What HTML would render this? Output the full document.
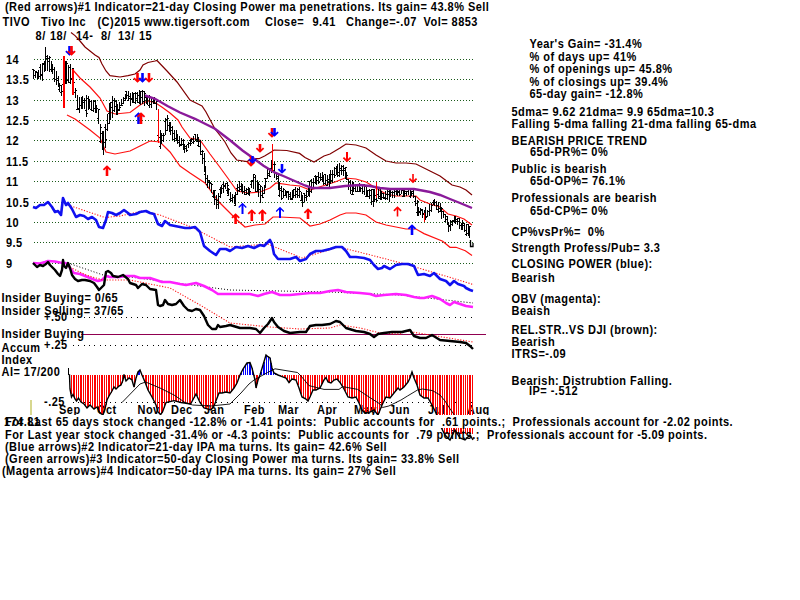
<!DOCTYPE html>
<html><head><meta charset="utf-8"><title>TIVO</title>
<style>html,body{margin:0;padding:0;background:#fff;width:800px;height:600px;overflow:hidden}svg{display:block}</style>
</head><body>
<svg width="800" height="600" viewBox="0 0 800 600">
<rect width="800" height="600" fill="#fff"/>
<g font-family="Liberation Sans, sans-serif" font-weight="bold" font-size="12" letter-spacing="0.513" transform="scale(0.917,1)" fill="#000" style="white-space:pre">
<text x="5.45" y="11" >(Red arrows)#1 Indicator=21-day Closing Power ma penetrations. Its gain= 43.8% Sell</text>
<text x="2.73" y="26.5" >TIVO</text>
<text x="44.71" y="26.5" >Tivo Inc</text>
<text x="106.32" y="26.5" >(C)2015 www.tigersoft.com</text>
<text x="288.99" y="26.5" >Close=</text>
<text x="340.79" y="26.5" >9.41</text>
<text x="377.32" y="26.5" >Change=-.07</text>
<text x="461.83" y="26.5" >Vol= 8853</text>
<text x="38.82" y="40.5" >8/</text>
<text x="54.53" y="40.5" >18/</text>
<text x="82.88" y="40.5" >14-</text>
<text x="110.14" y="40.5" >8/</text>
<text x="128.68" y="40.5" >13/</text>
<text x="151.58" y="40.5" >15</text>
<text x="6.54" y="64.2" >14</text>
<text x="6.54" y="84.2" >13.5</text>
<text x="6.54" y="105.2" >13</text>
<text x="6.54" y="125.2" >12.5</text>
<text x="6.54" y="145.2" >12</text>
<text x="6.54" y="166.2" >11.5</text>
<text x="6.54" y="186.2" >11</text>
<text x="6.54" y="207.2" >10.5</text>
<text x="6.54" y="227.2" >10</text>
<text x="6.54" y="247.2" >9.5</text>
<text x="6.54" y="268.2" >9</text>
</g>
<g stroke="#1a5a1a" stroke-width="1" stroke-dasharray="1 2" shape-rendering="crispEdges">
<line x1="34" y1="59.5" x2="473" y2="59.5"/>
<line x1="34" y1="79.5" x2="473" y2="79.5"/>
<line x1="34" y1="100.5" x2="473" y2="100.5"/>
<line x1="34" y1="120.5" x2="473" y2="120.5"/>
<line x1="34" y1="140.5" x2="473" y2="140.5"/>
<line x1="34" y1="161.5" x2="473" y2="161.5"/>
<line x1="34" y1="181.5" x2="473" y2="181.5"/>
<line x1="34" y1="202.5" x2="473" y2="202.5"/>
<line x1="34" y1="222.5" x2="473" y2="222.5"/>
<line x1="34" y1="242.5" x2="473" y2="242.5"/>
<line x1="34" y1="263.5" x2="473" y2="263.5"/>
</g>
<polyline fill="none" stroke="#800000" stroke-width="1.2" points="71.0,32.5 75.0,35.6 80.0,41.0 85.0,47.0 90.0,51.0 95.0,55.0 99.0,57.5 102.0,64.0 106.0,71.0 110.0,75.6 120.0,77.0 128.0,75.6 135.0,74.0 140.0,70.0 143.0,65.0 148.0,62.5 155.0,61.0 157.0,60.5 167.0,71.0 177.0,82.0 190.0,100.0 198.0,104.0 202.0,106.0 206.0,112.0 215.0,129.0 222.0,138.0 225.0,142.0 231.0,153.0 236.7,160.0 247.0,161.6 252.0,158.7 259.0,158.7 264.6,156.0 271.6,151.7 274.0,150.0 286.8,150.5 299.6,153.4 305.0,157.5 314.0,162.0 324.0,156.0 330.0,154.0 340.0,148.0 346.0,144.0 356.0,145.0 366.0,148.0 376.0,155.0 386.0,161.0 396.0,163.0 406.0,163.0 416.0,164.0 430.0,171.0 440.0,176.0 448.0,182.0 452.0,185.0 460.0,187.0 466.0,190.0 472.0,195.0"/>
<polyline fill="none" stroke="#ff1010" stroke-width="1.2" points="72.0,69.0 80.0,78.0 90.0,87.0 100.0,98.0 107.0,111.0 115.0,114.0 130.0,112.5 140.0,105.0 147.5,101.0 155.0,102.5 162.5,107.5 170.0,113.0 178.0,120.0 182.0,127.0 190.0,138.0 200.0,140.0 210.0,154.0 219.0,166.0 228.5,179.0 237.0,191.0 248.0,193.0 260.0,192.0 270.0,188.0 276.0,183.0 290.0,185.0 300.0,186.0 310.0,190.0 322.5,186.0 335.0,182.0 345.0,178.0 356.0,179.0 366.0,182.0 376.0,188.0 386.0,194.0 396.0,196.0 406.0,196.0 416.0,196.0 420.0,200.0 430.0,204.0 440.0,207.0 448.0,214.0 456.0,216.0 464.0,219.0 472.0,225.0"/>
<polyline fill="none" stroke="#ff1010" stroke-width="1.2" points="67.0,115.0 75.0,119.0 90.0,130.0 100.0,138.0 106.0,152.0 115.0,154.0 130.0,151.0 140.0,146.0 150.0,141.0 160.0,142.0 170.0,152.0 180.0,166.0 190.0,173.0 205.0,183.0 219.0,202.0 237.0,220.0 245.0,227.0 255.0,225.0 265.0,224.0 273.0,217.0 280.0,217.0 300.0,218.0 310.0,226.0 320.0,224.0 330.0,220.0 340.0,215.0 346.0,213.0 356.0,213.0 366.0,215.0 376.0,222.0 386.0,225.0 396.0,227.0 406.0,229.0 416.0,229.0 424.0,233.6 442.7,241.3 450.0,247.3 456.0,247.3 465.3,250.7 472.0,255.5"/>
<g fill="#000" shape-rendering="crispEdges">
<rect x="33" y="69" width="1" height="10"/>
<rect x="32" y="69" width="1" height="1"/>
<rect x="34" y="70" width="1" height="1"/>
<rect x="35" y="71" width="1" height="7"/>
<rect x="34" y="75" width="1" height="1"/>
<rect x="36" y="71" width="1" height="1"/>
<rect x="37" y="72" width="1" height="6"/>
<rect x="36" y="72" width="1" height="1"/>
<rect x="38" y="75" width="1" height="1"/>
<rect x="38" y="70" width="1" height="9"/>
<rect x="37" y="78" width="1" height="1"/>
<rect x="39" y="76" width="1" height="1"/>
<rect x="40" y="64" width="1" height="15"/>
<rect x="39" y="67" width="1" height="1"/>
<rect x="41" y="74" width="1" height="1"/>
<rect x="42" y="63" width="1" height="18"/>
<rect x="41" y="75" width="1" height="1"/>
<rect x="43" y="64" width="1" height="1"/>
<rect x="44" y="61" width="1" height="11"/>
<rect x="43" y="63" width="1" height="1"/>
<rect x="45" y="65" width="1" height="1"/>
<rect x="45" y="47" width="1" height="24"/>
<rect x="44" y="65" width="1" height="1"/>
<rect x="46" y="56" width="1" height="1"/>
<rect x="47" y="55" width="1" height="16"/>
<rect x="46" y="58" width="1" height="1"/>
<rect x="48" y="61" width="1" height="1"/>
<rect x="49" y="56" width="1" height="16"/>
<rect x="48" y="58" width="1" height="1"/>
<rect x="50" y="57" width="1" height="1"/>
<rect x="51" y="61" width="1" height="11"/>
<rect x="50" y="69" width="1" height="1"/>
<rect x="52" y="67" width="1" height="1"/>
<rect x="52" y="64" width="1" height="10"/>
<rect x="51" y="71" width="1" height="1"/>
<rect x="53" y="69" width="1" height="1"/>
<rect x="54" y="67" width="1" height="15"/>
<rect x="53" y="78" width="1" height="1"/>
<rect x="55" y="79" width="1" height="1"/>
<rect x="56" y="71" width="1" height="14"/>
<rect x="55" y="79" width="1" height="1"/>
<rect x="57" y="78" width="1" height="1"/>
<rect x="58" y="76" width="1" height="11"/>
<rect x="57" y="80" width="1" height="1"/>
<rect x="59" y="85" width="1" height="1"/>
<rect x="59" y="83" width="1" height="9"/>
<rect x="58" y="89" width="1" height="1"/>
<rect x="60" y="85" width="1" height="1"/>
<rect x="61" y="85" width="1" height="11"/>
<rect x="60" y="92" width="1" height="1"/>
<rect x="62" y="91" width="1" height="1"/>
<rect x="63" y="67" width="1" height="22"/>
<rect x="62" y="84" width="1" height="1"/>
<rect x="64" y="85" width="1" height="1"/>
<rect x="65" y="61" width="1" height="23"/>
<rect x="64" y="71" width="1" height="1"/>
<rect x="66" y="83" width="1" height="1"/>
<rect x="66" y="61" width="1" height="22"/>
<rect x="65" y="75" width="1" height="1"/>
<rect x="67" y="63" width="1" height="1"/>
<rect x="68" y="65" width="1" height="18"/>
<rect x="67" y="80" width="1" height="1"/>
<rect x="69" y="67" width="1" height="1"/>
<rect x="70" y="64" width="1" height="20"/>
<rect x="69" y="82" width="1" height="1"/>
<rect x="71" y="78" width="1" height="1"/>
<rect x="72" y="68" width="1" height="16"/>
<rect x="71" y="79" width="1" height="1"/>
<rect x="73" y="68" width="1" height="1"/>
<rect x="73" y="82" width="1" height="7"/>
<rect x="72" y="86" width="1" height="1"/>
<rect x="74" y="82" width="1" height="1"/>
<rect x="75" y="88" width="1" height="10"/>
<rect x="74" y="92" width="1" height="1"/>
<rect x="76" y="90" width="1" height="1"/>
<rect x="77" y="95" width="1" height="15"/>
<rect x="76" y="109" width="1" height="1"/>
<rect x="78" y="108" width="1" height="1"/>
<rect x="79" y="97" width="1" height="16"/>
<rect x="78" y="109" width="1" height="1"/>
<rect x="80" y="105" width="1" height="1"/>
<rect x="81" y="97" width="1" height="12"/>
<rect x="80" y="105" width="1" height="1"/>
<rect x="82" y="101" width="1" height="1"/>
<rect x="82" y="96" width="1" height="13"/>
<rect x="81" y="106" width="1" height="1"/>
<rect x="83" y="102" width="1" height="1"/>
<rect x="84" y="98" width="1" height="11"/>
<rect x="83" y="100" width="1" height="1"/>
<rect x="85" y="100" width="1" height="1"/>
<rect x="86" y="95" width="1" height="22"/>
<rect x="85" y="110" width="1" height="1"/>
<rect x="87" y="113" width="1" height="1"/>
<rect x="88" y="96" width="1" height="14"/>
<rect x="87" y="98" width="1" height="1"/>
<rect x="89" y="102" width="1" height="1"/>
<rect x="89" y="99" width="1" height="10"/>
<rect x="88" y="104" width="1" height="1"/>
<rect x="90" y="101" width="1" height="1"/>
<rect x="91" y="100" width="1" height="11"/>
<rect x="90" y="109" width="1" height="1"/>
<rect x="92" y="110" width="1" height="1"/>
<rect x="93" y="100" width="1" height="12"/>
<rect x="92" y="110" width="1" height="1"/>
<rect x="94" y="108" width="1" height="1"/>
<rect x="95" y="100" width="1" height="13"/>
<rect x="94" y="101" width="1" height="1"/>
<rect x="96" y="107" width="1" height="1"/>
<rect x="96" y="105" width="1" height="8"/>
<rect x="95" y="106" width="1" height="1"/>
<rect x="97" y="108" width="1" height="1"/>
<rect x="98" y="109" width="1" height="15"/>
<rect x="97" y="118" width="1" height="1"/>
<rect x="99" y="109" width="1" height="1"/>
<rect x="100" y="124" width="1" height="19"/>
<rect x="99" y="141" width="1" height="1"/>
<rect x="101" y="127" width="1" height="1"/>
<rect x="102" y="131" width="1" height="19"/>
<rect x="101" y="133" width="1" height="1"/>
<rect x="103" y="137" width="1" height="1"/>
<rect x="103" y="131" width="1" height="24"/>
<rect x="102" y="139" width="1" height="1"/>
<rect x="104" y="142" width="1" height="1"/>
<rect x="105" y="124" width="1" height="24"/>
<rect x="104" y="127" width="1" height="1"/>
<rect x="106" y="139" width="1" height="1"/>
<rect x="107" y="114" width="1" height="17"/>
<rect x="106" y="129" width="1" height="1"/>
<rect x="108" y="123" width="1" height="1"/>
<rect x="109" y="103" width="1" height="21"/>
<rect x="108" y="113" width="1" height="1"/>
<rect x="110" y="111" width="1" height="1"/>
<rect x="110" y="102" width="1" height="18"/>
<rect x="109" y="118" width="1" height="1"/>
<rect x="111" y="102" width="1" height="1"/>
<rect x="112" y="96" width="1" height="22"/>
<rect x="111" y="107" width="1" height="1"/>
<rect x="113" y="100" width="1" height="1"/>
<rect x="114" y="98" width="1" height="14"/>
<rect x="113" y="110" width="1" height="1"/>
<rect x="115" y="106" width="1" height="1"/>
<rect x="116" y="100" width="1" height="15"/>
<rect x="115" y="101" width="1" height="1"/>
<rect x="117" y="111" width="1" height="1"/>
<rect x="117" y="104" width="1" height="11"/>
<rect x="116" y="106" width="1" height="1"/>
<rect x="118" y="109" width="1" height="1"/>
<rect x="119" y="102" width="1" height="9"/>
<rect x="118" y="110" width="1" height="1"/>
<rect x="120" y="107" width="1" height="1"/>
<rect x="121" y="99" width="1" height="7"/>
<rect x="120" y="105" width="1" height="1"/>
<rect x="122" y="105" width="1" height="1"/>
<rect x="123" y="97" width="1" height="7"/>
<rect x="122" y="103" width="1" height="1"/>
<rect x="124" y="100" width="1" height="1"/>
<rect x="125" y="94" width="1" height="7"/>
<rect x="124" y="98" width="1" height="1"/>
<rect x="126" y="97" width="1" height="1"/>
<rect x="126" y="91" width="1" height="8"/>
<rect x="125" y="91" width="1" height="1"/>
<rect x="127" y="95" width="1" height="1"/>
<rect x="128" y="91" width="1" height="10"/>
<rect x="127" y="100" width="1" height="1"/>
<rect x="129" y="96" width="1" height="1"/>
<rect x="130" y="93" width="1" height="13"/>
<rect x="129" y="98" width="1" height="1"/>
<rect x="131" y="98" width="1" height="1"/>
<rect x="132" y="92" width="1" height="11"/>
<rect x="131" y="99" width="1" height="1"/>
<rect x="133" y="95" width="1" height="1"/>
<rect x="133" y="93" width="1" height="10"/>
<rect x="132" y="102" width="1" height="1"/>
<rect x="134" y="93" width="1" height="1"/>
<rect x="135" y="92" width="1" height="12"/>
<rect x="134" y="102" width="1" height="1"/>
<rect x="136" y="93" width="1" height="1"/>
<rect x="137" y="92" width="1" height="11"/>
<rect x="136" y="98" width="1" height="1"/>
<rect x="138" y="95" width="1" height="1"/>
<rect x="139" y="90" width="1" height="14"/>
<rect x="138" y="102" width="1" height="1"/>
<rect x="140" y="100" width="1" height="1"/>
<rect x="140" y="91" width="1" height="14"/>
<rect x="139" y="102" width="1" height="1"/>
<rect x="141" y="97" width="1" height="1"/>
<rect x="142" y="90" width="1" height="14"/>
<rect x="141" y="91" width="1" height="1"/>
<rect x="143" y="101" width="1" height="1"/>
<rect x="144" y="91" width="1" height="15"/>
<rect x="143" y="91" width="1" height="1"/>
<rect x="145" y="93" width="1" height="1"/>
<rect x="146" y="95" width="1" height="9"/>
<rect x="145" y="97" width="1" height="1"/>
<rect x="147" y="102" width="1" height="1"/>
<rect x="147" y="97" width="1" height="8"/>
<rect x="146" y="99" width="1" height="1"/>
<rect x="148" y="97" width="1" height="1"/>
<rect x="149" y="95" width="1" height="13"/>
<rect x="148" y="105" width="1" height="1"/>
<rect x="150" y="96" width="1" height="1"/>
<rect x="151" y="98" width="1" height="10"/>
<rect x="150" y="104" width="1" height="1"/>
<rect x="152" y="101" width="1" height="1"/>
<rect x="153" y="99" width="1" height="5"/>
<rect x="152" y="101" width="1" height="1"/>
<rect x="154" y="100" width="1" height="1"/>
<rect x="154" y="97" width="1" height="7"/>
<rect x="153" y="101" width="1" height="1"/>
<rect x="155" y="99" width="1" height="1"/>
<rect x="156" y="101" width="1" height="9"/>
<rect x="155" y="103" width="1" height="1"/>
<rect x="157" y="101" width="1" height="1"/>
<rect x="158" y="121" width="1" height="18"/>
<rect x="157" y="135" width="1" height="1"/>
<rect x="159" y="137" width="1" height="1"/>
<rect x="160" y="130" width="1" height="19"/>
<rect x="159" y="146" width="1" height="1"/>
<rect x="161" y="134" width="1" height="1"/>
<rect x="161" y="133" width="1" height="11"/>
<rect x="160" y="133" width="1" height="1"/>
<rect x="162" y="140" width="1" height="1"/>
<rect x="163" y="133" width="1" height="9"/>
<rect x="162" y="135" width="1" height="1"/>
<rect x="164" y="135" width="1" height="1"/>
<rect x="165" y="118" width="1" height="17"/>
<rect x="164" y="121" width="1" height="1"/>
<rect x="166" y="119" width="1" height="1"/>
<rect x="167" y="115" width="1" height="16"/>
<rect x="166" y="130" width="1" height="1"/>
<rect x="168" y="118" width="1" height="1"/>
<rect x="169" y="122" width="1" height="10"/>
<rect x="168" y="125" width="1" height="1"/>
<rect x="170" y="126" width="1" height="1"/>
<rect x="170" y="122" width="1" height="13"/>
<rect x="169" y="129" width="1" height="1"/>
<rect x="171" y="130" width="1" height="1"/>
<rect x="172" y="126" width="1" height="14"/>
<rect x="171" y="127" width="1" height="1"/>
<rect x="173" y="133" width="1" height="1"/>
<rect x="174" y="130" width="1" height="12"/>
<rect x="173" y="139" width="1" height="1"/>
<rect x="175" y="138" width="1" height="1"/>
<rect x="176" y="130" width="1" height="11"/>
<rect x="175" y="138" width="1" height="1"/>
<rect x="177" y="138" width="1" height="1"/>
<rect x="177" y="134" width="1" height="10"/>
<rect x="176" y="137" width="1" height="1"/>
<rect x="178" y="142" width="1" height="1"/>
<rect x="179" y="136" width="1" height="11"/>
<rect x="178" y="140" width="1" height="1"/>
<rect x="180" y="144" width="1" height="1"/>
<rect x="181" y="138" width="1" height="8"/>
<rect x="180" y="145" width="1" height="1"/>
<rect x="182" y="140" width="1" height="1"/>
<rect x="183" y="139" width="1" height="11"/>
<rect x="182" y="144" width="1" height="1"/>
<rect x="184" y="140" width="1" height="1"/>
<rect x="184" y="144" width="1" height="9"/>
<rect x="183" y="147" width="1" height="1"/>
<rect x="185" y="148" width="1" height="1"/>
<rect x="186" y="145" width="1" height="7"/>
<rect x="185" y="146" width="1" height="1"/>
<rect x="187" y="150" width="1" height="1"/>
<rect x="188" y="142" width="1" height="6"/>
<rect x="187" y="144" width="1" height="1"/>
<rect x="189" y="143" width="1" height="1"/>
<rect x="190" y="140" width="1" height="6"/>
<rect x="189" y="140" width="1" height="1"/>
<rect x="191" y="143" width="1" height="1"/>
<rect x="191" y="138" width="1" height="4"/>
<rect x="190" y="139" width="1" height="1"/>
<rect x="192" y="139" width="1" height="1"/>
<rect x="193" y="136" width="1" height="8"/>
<rect x="192" y="142" width="1" height="1"/>
<rect x="194" y="141" width="1" height="1"/>
<rect x="195" y="134" width="1" height="7"/>
<rect x="194" y="134" width="1" height="1"/>
<rect x="196" y="139" width="1" height="1"/>
<rect x="197" y="134" width="1" height="8"/>
<rect x="196" y="141" width="1" height="1"/>
<rect x="198" y="141" width="1" height="1"/>
<rect x="198" y="137" width="1" height="10"/>
<rect x="197" y="145" width="1" height="1"/>
<rect x="199" y="146" width="1" height="1"/>
<rect x="200" y="140" width="1" height="15"/>
<rect x="199" y="141" width="1" height="1"/>
<rect x="201" y="154" width="1" height="1"/>
<rect x="202" y="150" width="1" height="14"/>
<rect x="201" y="151" width="1" height="1"/>
<rect x="203" y="151" width="1" height="1"/>
<rect x="204" y="153" width="1" height="19"/>
<rect x="203" y="158" width="1" height="1"/>
<rect x="205" y="161" width="1" height="1"/>
<rect x="205" y="166" width="1" height="17"/>
<rect x="204" y="174" width="1" height="1"/>
<rect x="206" y="178" width="1" height="1"/>
<rect x="207" y="175" width="1" height="13"/>
<rect x="206" y="184" width="1" height="1"/>
<rect x="208" y="182" width="1" height="1"/>
<rect x="209" y="180" width="1" height="9"/>
<rect x="208" y="180" width="1" height="1"/>
<rect x="210" y="182" width="1" height="1"/>
<rect x="211" y="183" width="1" height="10"/>
<rect x="210" y="183" width="1" height="1"/>
<rect x="212" y="184" width="1" height="1"/>
<rect x="213" y="190" width="1" height="7"/>
<rect x="212" y="196" width="1" height="1"/>
<rect x="214" y="191" width="1" height="1"/>
<rect x="214" y="190" width="1" height="15"/>
<rect x="213" y="197" width="1" height="1"/>
<rect x="215" y="190" width="1" height="1"/>
<rect x="216" y="195" width="1" height="14"/>
<rect x="215" y="199" width="1" height="1"/>
<rect x="217" y="204" width="1" height="1"/>
<rect x="218" y="193" width="1" height="16"/>
<rect x="217" y="200" width="1" height="1"/>
<rect x="219" y="196" width="1" height="1"/>
<rect x="220" y="187" width="1" height="11"/>
<rect x="219" y="189" width="1" height="1"/>
<rect x="221" y="190" width="1" height="1"/>
<rect x="221" y="185" width="1" height="9"/>
<rect x="220" y="193" width="1" height="1"/>
<rect x="222" y="188" width="1" height="1"/>
<rect x="223" y="182" width="1" height="11"/>
<rect x="222" y="184" width="1" height="1"/>
<rect x="224" y="186" width="1" height="1"/>
<rect x="225" y="183" width="1" height="6"/>
<rect x="224" y="185" width="1" height="1"/>
<rect x="226" y="183" width="1" height="1"/>
<rect x="227" y="182" width="1" height="12"/>
<rect x="226" y="190" width="1" height="1"/>
<rect x="228" y="185" width="1" height="1"/>
<rect x="228" y="188" width="1" height="8"/>
<rect x="227" y="195" width="1" height="1"/>
<rect x="229" y="189" width="1" height="1"/>
<rect x="230" y="192" width="1" height="10"/>
<rect x="229" y="199" width="1" height="1"/>
<rect x="231" y="200" width="1" height="1"/>
<rect x="232" y="194" width="1" height="8"/>
<rect x="231" y="198" width="1" height="1"/>
<rect x="233" y="197" width="1" height="1"/>
<rect x="234" y="195" width="1" height="9"/>
<rect x="233" y="197" width="1" height="1"/>
<rect x="235" y="201" width="1" height="1"/>
<rect x="235" y="192" width="1" height="14"/>
<rect x="234" y="205" width="1" height="1"/>
<rect x="236" y="194" width="1" height="1"/>
<rect x="237" y="184" width="1" height="11"/>
<rect x="236" y="188" width="1" height="1"/>
<rect x="238" y="190" width="1" height="1"/>
<rect x="239" y="181" width="1" height="11"/>
<rect x="238" y="187" width="1" height="1"/>
<rect x="240" y="189" width="1" height="1"/>
<rect x="241" y="183" width="1" height="9"/>
<rect x="240" y="186" width="1" height="1"/>
<rect x="242" y="187" width="1" height="1"/>
<rect x="242" y="184" width="1" height="10"/>
<rect x="241" y="188" width="1" height="1"/>
<rect x="243" y="191" width="1" height="1"/>
<rect x="244" y="186" width="1" height="9"/>
<rect x="243" y="191" width="1" height="1"/>
<rect x="245" y="194" width="1" height="1"/>
<rect x="246" y="188" width="1" height="7"/>
<rect x="245" y="190" width="1" height="1"/>
<rect x="247" y="189" width="1" height="1"/>
<rect x="248" y="187" width="1" height="8"/>
<rect x="247" y="193" width="1" height="1"/>
<rect x="249" y="188" width="1" height="1"/>
<rect x="249" y="188" width="1" height="8"/>
<rect x="248" y="191" width="1" height="1"/>
<rect x="250" y="191" width="1" height="1"/>
<rect x="251" y="180" width="1" height="8"/>
<rect x="250" y="184" width="1" height="1"/>
<rect x="252" y="181" width="1" height="1"/>
<rect x="253" y="174" width="1" height="15"/>
<rect x="252" y="180" width="1" height="1"/>
<rect x="254" y="174" width="1" height="1"/>
<rect x="255" y="175" width="1" height="17"/>
<rect x="254" y="177" width="1" height="1"/>
<rect x="256" y="191" width="1" height="1"/>
<rect x="257" y="180" width="1" height="12"/>
<rect x="256" y="191" width="1" height="1"/>
<rect x="258" y="189" width="1" height="1"/>
<rect x="258" y="182" width="1" height="15"/>
<rect x="257" y="189" width="1" height="1"/>
<rect x="259" y="184" width="1" height="1"/>
<rect x="260" y="185" width="1" height="18"/>
<rect x="259" y="189" width="1" height="1"/>
<rect x="261" y="186" width="1" height="1"/>
<rect x="262" y="187" width="1" height="11"/>
<rect x="261" y="195" width="1" height="1"/>
<rect x="263" y="197" width="1" height="1"/>
<rect x="264" y="185" width="1" height="9"/>
<rect x="263" y="193" width="1" height="1"/>
<rect x="265" y="187" width="1" height="1"/>
<rect x="265" y="178" width="1" height="9"/>
<rect x="264" y="178" width="1" height="1"/>
<rect x="266" y="181" width="1" height="1"/>
<rect x="267" y="168" width="1" height="11"/>
<rect x="266" y="178" width="1" height="1"/>
<rect x="268" y="173" width="1" height="1"/>
<rect x="269" y="168" width="1" height="9"/>
<rect x="268" y="175" width="1" height="1"/>
<rect x="270" y="176" width="1" height="1"/>
<rect x="271" y="160" width="1" height="13"/>
<rect x="270" y="168" width="1" height="1"/>
<rect x="272" y="170" width="1" height="1"/>
<rect x="272" y="158" width="1" height="14"/>
<rect x="271" y="165" width="1" height="1"/>
<rect x="273" y="170" width="1" height="1"/>
<rect x="274" y="162" width="1" height="16"/>
<rect x="273" y="164" width="1" height="1"/>
<rect x="275" y="164" width="1" height="1"/>
<rect x="276" y="172" width="1" height="8"/>
<rect x="275" y="173" width="1" height="1"/>
<rect x="277" y="176" width="1" height="1"/>
<rect x="278" y="175" width="1" height="15"/>
<rect x="277" y="178" width="1" height="1"/>
<rect x="279" y="186" width="1" height="1"/>
<rect x="279" y="182" width="1" height="15"/>
<rect x="278" y="195" width="1" height="1"/>
<rect x="280" y="188" width="1" height="1"/>
<rect x="281" y="186" width="1" height="14"/>
<rect x="280" y="190" width="1" height="1"/>
<rect x="282" y="198" width="1" height="1"/>
<rect x="283" y="188" width="1" height="10"/>
<rect x="282" y="191" width="1" height="1"/>
<rect x="284" y="189" width="1" height="1"/>
<rect x="285" y="190" width="1" height="6"/>
<rect x="284" y="195" width="1" height="1"/>
<rect x="286" y="195" width="1" height="1"/>
<rect x="286" y="191" width="1" height="7"/>
<rect x="285" y="192" width="1" height="1"/>
<rect x="287" y="191" width="1" height="1"/>
<rect x="288" y="191" width="1" height="9"/>
<rect x="287" y="192" width="1" height="1"/>
<rect x="289" y="194" width="1" height="1"/>
<rect x="290" y="192" width="1" height="8"/>
<rect x="289" y="196" width="1" height="1"/>
<rect x="291" y="199" width="1" height="1"/>
<rect x="292" y="190" width="1" height="10"/>
<rect x="291" y="198" width="1" height="1"/>
<rect x="293" y="193" width="1" height="1"/>
<rect x="293" y="189" width="1" height="9"/>
<rect x="292" y="196" width="1" height="1"/>
<rect x="294" y="189" width="1" height="1"/>
<rect x="295" y="187" width="1" height="11"/>
<rect x="294" y="195" width="1" height="1"/>
<rect x="296" y="194" width="1" height="1"/>
<rect x="297" y="188" width="1" height="10"/>
<rect x="296" y="191" width="1" height="1"/>
<rect x="298" y="189" width="1" height="1"/>
<rect x="299" y="187" width="1" height="11"/>
<rect x="298" y="195" width="1" height="1"/>
<rect x="300" y="191" width="1" height="1"/>
<rect x="301" y="192" width="1" height="9"/>
<rect x="300" y="200" width="1" height="1"/>
<rect x="302" y="196" width="1" height="1"/>
<rect x="302" y="195" width="1" height="12"/>
<rect x="301" y="198" width="1" height="1"/>
<rect x="303" y="202" width="1" height="1"/>
<rect x="304" y="193" width="1" height="9"/>
<rect x="303" y="193" width="1" height="1"/>
<rect x="305" y="195" width="1" height="1"/>
<rect x="306" y="190" width="1" height="11"/>
<rect x="305" y="197" width="1" height="1"/>
<rect x="307" y="196" width="1" height="1"/>
<rect x="308" y="186" width="1" height="10"/>
<rect x="307" y="191" width="1" height="1"/>
<rect x="309" y="192" width="1" height="1"/>
<rect x="309" y="181" width="1" height="16"/>
<rect x="308" y="181" width="1" height="1"/>
<rect x="310" y="191" width="1" height="1"/>
<rect x="311" y="179" width="1" height="14"/>
<rect x="310" y="180" width="1" height="1"/>
<rect x="312" y="182" width="1" height="1"/>
<rect x="313" y="178" width="1" height="10"/>
<rect x="312" y="182" width="1" height="1"/>
<rect x="314" y="182" width="1" height="1"/>
<rect x="315" y="175" width="1" height="9"/>
<rect x="314" y="176" width="1" height="1"/>
<rect x="316" y="180" width="1" height="1"/>
<rect x="316" y="176" width="1" height="9"/>
<rect x="315" y="176" width="1" height="1"/>
<rect x="317" y="180" width="1" height="1"/>
<rect x="318" y="172" width="1" height="12"/>
<rect x="317" y="176" width="1" height="1"/>
<rect x="319" y="182" width="1" height="1"/>
<rect x="320" y="173" width="1" height="8"/>
<rect x="319" y="177" width="1" height="1"/>
<rect x="321" y="179" width="1" height="1"/>
<rect x="322" y="172" width="1" height="9"/>
<rect x="321" y="177" width="1" height="1"/>
<rect x="323" y="178" width="1" height="1"/>
<rect x="323" y="175" width="1" height="10"/>
<rect x="322" y="181" width="1" height="1"/>
<rect x="324" y="183" width="1" height="1"/>
<rect x="325" y="174" width="1" height="11"/>
<rect x="324" y="174" width="1" height="1"/>
<rect x="326" y="180" width="1" height="1"/>
<rect x="327" y="175" width="1" height="11"/>
<rect x="326" y="185" width="1" height="1"/>
<rect x="328" y="179" width="1" height="1"/>
<rect x="329" y="174" width="1" height="13"/>
<rect x="328" y="182" width="1" height="1"/>
<rect x="330" y="176" width="1" height="1"/>
<rect x="330" y="170" width="1" height="14"/>
<rect x="329" y="174" width="1" height="1"/>
<rect x="331" y="174" width="1" height="1"/>
<rect x="332" y="170" width="1" height="13"/>
<rect x="331" y="180" width="1" height="1"/>
<rect x="333" y="174" width="1" height="1"/>
<rect x="334" y="167" width="1" height="11"/>
<rect x="333" y="174" width="1" height="1"/>
<rect x="335" y="175" width="1" height="1"/>
<rect x="336" y="166" width="1" height="9"/>
<rect x="335" y="168" width="1" height="1"/>
<rect x="337" y="167" width="1" height="1"/>
<rect x="337" y="164" width="1" height="13"/>
<rect x="336" y="171" width="1" height="1"/>
<rect x="338" y="172" width="1" height="1"/>
<rect x="339" y="163" width="1" height="14"/>
<rect x="338" y="175" width="1" height="1"/>
<rect x="340" y="170" width="1" height="1"/>
<rect x="341" y="165" width="1" height="10"/>
<rect x="340" y="168" width="1" height="1"/>
<rect x="342" y="166" width="1" height="1"/>
<rect x="343" y="165" width="1" height="11"/>
<rect x="342" y="170" width="1" height="1"/>
<rect x="344" y="168" width="1" height="1"/>
<rect x="345" y="167" width="1" height="11"/>
<rect x="344" y="170" width="1" height="1"/>
<rect x="346" y="167" width="1" height="1"/>
<rect x="346" y="172" width="1" height="8"/>
<rect x="345" y="178" width="1" height="1"/>
<rect x="347" y="175" width="1" height="1"/>
<rect x="348" y="179" width="1" height="11"/>
<rect x="347" y="179" width="1" height="1"/>
<rect x="349" y="186" width="1" height="1"/>
<rect x="350" y="180" width="1" height="14"/>
<rect x="349" y="182" width="1" height="1"/>
<rect x="351" y="190" width="1" height="1"/>
<rect x="352" y="181" width="1" height="14"/>
<rect x="351" y="194" width="1" height="1"/>
<rect x="353" y="194" width="1" height="1"/>
<rect x="353" y="182" width="1" height="10"/>
<rect x="352" y="185" width="1" height="1"/>
<rect x="354" y="188" width="1" height="1"/>
<rect x="355" y="184" width="1" height="8"/>
<rect x="354" y="188" width="1" height="1"/>
<rect x="356" y="184" width="1" height="1"/>
<rect x="357" y="184" width="1" height="8"/>
<rect x="356" y="191" width="1" height="1"/>
<rect x="358" y="191" width="1" height="1"/>
<rect x="359" y="183" width="1" height="9"/>
<rect x="358" y="191" width="1" height="1"/>
<rect x="360" y="190" width="1" height="1"/>
<rect x="360" y="187" width="1" height="5"/>
<rect x="359" y="187" width="1" height="1"/>
<rect x="361" y="188" width="1" height="1"/>
<rect x="362" y="184" width="1" height="10"/>
<rect x="361" y="185" width="1" height="1"/>
<rect x="363" y="191" width="1" height="1"/>
<rect x="364" y="184" width="1" height="11"/>
<rect x="363" y="184" width="1" height="1"/>
<rect x="365" y="186" width="1" height="1"/>
<rect x="366" y="186" width="1" height="11"/>
<rect x="365" y="196" width="1" height="1"/>
<rect x="367" y="190" width="1" height="1"/>
<rect x="367" y="191" width="1" height="6"/>
<rect x="366" y="195" width="1" height="1"/>
<rect x="368" y="196" width="1" height="1"/>
<rect x="369" y="189" width="1" height="10"/>
<rect x="368" y="190" width="1" height="1"/>
<rect x="370" y="190" width="1" height="1"/>
<rect x="371" y="189" width="1" height="16"/>
<rect x="370" y="195" width="1" height="1"/>
<rect x="372" y="201" width="1" height="1"/>
<rect x="373" y="189" width="1" height="18"/>
<rect x="372" y="189" width="1" height="1"/>
<rect x="374" y="189" width="1" height="1"/>
<rect x="374" y="190" width="1" height="12"/>
<rect x="373" y="194" width="1" height="1"/>
<rect x="375" y="195" width="1" height="1"/>
<rect x="376" y="192" width="1" height="10"/>
<rect x="375" y="199" width="1" height="1"/>
<rect x="377" y="200" width="1" height="1"/>
<rect x="378" y="188" width="1" height="11"/>
<rect x="377" y="194" width="1" height="1"/>
<rect x="379" y="198" width="1" height="1"/>
<rect x="380" y="189" width="1" height="11"/>
<rect x="379" y="196" width="1" height="1"/>
<rect x="381" y="199" width="1" height="1"/>
<rect x="381" y="191" width="1" height="8"/>
<rect x="380" y="194" width="1" height="1"/>
<rect x="382" y="197" width="1" height="1"/>
<rect x="383" y="193" width="1" height="6"/>
<rect x="382" y="193" width="1" height="1"/>
<rect x="384" y="198" width="1" height="1"/>
<rect x="385" y="191" width="1" height="9"/>
<rect x="384" y="197" width="1" height="1"/>
<rect x="386" y="194" width="1" height="1"/>
<rect x="387" y="190" width="1" height="10"/>
<rect x="386" y="198" width="1" height="1"/>
<rect x="388" y="191" width="1" height="1"/>
<rect x="389" y="190" width="1" height="12"/>
<rect x="388" y="194" width="1" height="1"/>
<rect x="390" y="193" width="1" height="1"/>
<rect x="390" y="188" width="1" height="9"/>
<rect x="389" y="192" width="1" height="1"/>
<rect x="391" y="189" width="1" height="1"/>
<rect x="392" y="191" width="1" height="7"/>
<rect x="391" y="192" width="1" height="1"/>
<rect x="393" y="192" width="1" height="1"/>
<rect x="394" y="189" width="1" height="9"/>
<rect x="393" y="189" width="1" height="1"/>
<rect x="395" y="191" width="1" height="1"/>
<rect x="396" y="191" width="1" height="4"/>
<rect x="395" y="191" width="1" height="1"/>
<rect x="397" y="192" width="1" height="1"/>
<rect x="397" y="189" width="1" height="7"/>
<rect x="396" y="190" width="1" height="1"/>
<rect x="398" y="192" width="1" height="1"/>
<rect x="399" y="189" width="1" height="7"/>
<rect x="398" y="191" width="1" height="1"/>
<rect x="400" y="194" width="1" height="1"/>
<rect x="401" y="188" width="1" height="6"/>
<rect x="400" y="189" width="1" height="1"/>
<rect x="402" y="190" width="1" height="1"/>
<rect x="403" y="188" width="1" height="9"/>
<rect x="402" y="196" width="1" height="1"/>
<rect x="404" y="195" width="1" height="1"/>
<rect x="404" y="188" width="1" height="9"/>
<rect x="403" y="194" width="1" height="1"/>
<rect x="405" y="193" width="1" height="1"/>
<rect x="406" y="191" width="1" height="5"/>
<rect x="405" y="191" width="1" height="1"/>
<rect x="407" y="191" width="1" height="1"/>
<rect x="408" y="188" width="1" height="7"/>
<rect x="407" y="191" width="1" height="1"/>
<rect x="409" y="188" width="1" height="1"/>
<rect x="410" y="190" width="1" height="8"/>
<rect x="409" y="196" width="1" height="1"/>
<rect x="411" y="195" width="1" height="1"/>
<rect x="411" y="191" width="1" height="5"/>
<rect x="410" y="194" width="1" height="1"/>
<rect x="412" y="191" width="1" height="1"/>
<rect x="413" y="188" width="1" height="10"/>
<rect x="412" y="193" width="1" height="1"/>
<rect x="414" y="196" width="1" height="1"/>
<rect x="415" y="196" width="1" height="10"/>
<rect x="414" y="201" width="1" height="1"/>
<rect x="416" y="203" width="1" height="1"/>
<rect x="417" y="200" width="1" height="16"/>
<rect x="416" y="212" width="1" height="1"/>
<rect x="418" y="201" width="1" height="1"/>
<rect x="418" y="207" width="1" height="9"/>
<rect x="417" y="207" width="1" height="1"/>
<rect x="419" y="211" width="1" height="1"/>
<rect x="420" y="208" width="1" height="7"/>
<rect x="419" y="212" width="1" height="1"/>
<rect x="421" y="210" width="1" height="1"/>
<rect x="422" y="209" width="1" height="9"/>
<rect x="421" y="209" width="1" height="1"/>
<rect x="423" y="213" width="1" height="1"/>
<rect x="424" y="210" width="1" height="11"/>
<rect x="423" y="214" width="1" height="1"/>
<rect x="425" y="214" width="1" height="1"/>
<rect x="425" y="207" width="1" height="13"/>
<rect x="424" y="219" width="1" height="1"/>
<rect x="426" y="217" width="1" height="1"/>
<rect x="427" y="210" width="1" height="7"/>
<rect x="426" y="216" width="1" height="1"/>
<rect x="428" y="211" width="1" height="1"/>
<rect x="429" y="204" width="1" height="12"/>
<rect x="428" y="211" width="1" height="1"/>
<rect x="430" y="210" width="1" height="1"/>
<rect x="431" y="203" width="1" height="9"/>
<rect x="430" y="210" width="1" height="1"/>
<rect x="432" y="205" width="1" height="1"/>
<rect x="433" y="200" width="1" height="5"/>
<rect x="432" y="202" width="1" height="1"/>
<rect x="434" y="201" width="1" height="1"/>
<rect x="434" y="199" width="1" height="7"/>
<rect x="433" y="201" width="1" height="1"/>
<rect x="435" y="202" width="1" height="1"/>
<rect x="436" y="201" width="1" height="9"/>
<rect x="435" y="202" width="1" height="1"/>
<rect x="437" y="209" width="1" height="1"/>
<rect x="438" y="202" width="1" height="11"/>
<rect x="437" y="205" width="1" height="1"/>
<rect x="439" y="208" width="1" height="1"/>
<rect x="440" y="203" width="1" height="9"/>
<rect x="439" y="211" width="1" height="1"/>
<rect x="441" y="211" width="1" height="1"/>
<rect x="441" y="207" width="1" height="12"/>
<rect x="440" y="208" width="1" height="1"/>
<rect x="442" y="208" width="1" height="1"/>
<rect x="443" y="211" width="1" height="7"/>
<rect x="442" y="211" width="1" height="1"/>
<rect x="444" y="214" width="1" height="1"/>
<rect x="445" y="214" width="1" height="8"/>
<rect x="444" y="221" width="1" height="1"/>
<rect x="446" y="216" width="1" height="1"/>
<rect x="447" y="216" width="1" height="9"/>
<rect x="446" y="219" width="1" height="1"/>
<rect x="448" y="224" width="1" height="1"/>
<rect x="448" y="222" width="1" height="10"/>
<rect x="447" y="223" width="1" height="1"/>
<rect x="449" y="226" width="1" height="1"/>
<rect x="450" y="220" width="1" height="11"/>
<rect x="449" y="225" width="1" height="1"/>
<rect x="451" y="224" width="1" height="1"/>
<rect x="452" y="220" width="1" height="6"/>
<rect x="451" y="221" width="1" height="1"/>
<rect x="453" y="221" width="1" height="1"/>
<rect x="454" y="216" width="1" height="7"/>
<rect x="453" y="220" width="1" height="1"/>
<rect x="455" y="217" width="1" height="1"/>
<rect x="455" y="216" width="1" height="8"/>
<rect x="454" y="219" width="1" height="1"/>
<rect x="456" y="219" width="1" height="1"/>
<rect x="457" y="218" width="1" height="7"/>
<rect x="456" y="221" width="1" height="1"/>
<rect x="458" y="218" width="1" height="1"/>
<rect x="459" y="218" width="1" height="11"/>
<rect x="458" y="221" width="1" height="1"/>
<rect x="460" y="225" width="1" height="1"/>
<rect x="461" y="223" width="1" height="6"/>
<rect x="460" y="225" width="1" height="1"/>
<rect x="462" y="224" width="1" height="1"/>
<rect x="462" y="220" width="1" height="10"/>
<rect x="461" y="229" width="1" height="1"/>
<rect x="463" y="223" width="1" height="1"/>
<rect x="464" y="223" width="1" height="9"/>
<rect x="463" y="225" width="1" height="1"/>
<rect x="465" y="230" width="1" height="1"/>
<rect x="466" y="224" width="1" height="12"/>
<rect x="465" y="234" width="1" height="1"/>
<rect x="467" y="224" width="1" height="1"/>
<rect x="468" y="224" width="1" height="12"/>
<rect x="467" y="233" width="1" height="1"/>
<rect x="469" y="229" width="1" height="1"/>
<rect x="469" y="226" width="1" height="12"/>
<rect x="468" y="228" width="1" height="1"/>
<rect x="470" y="226" width="1" height="1"/>
</g>
<polyline fill="none" stroke="#8a1a9a" stroke-width="2.4" points="145.0,95.5 155.0,98.8 167.5,106.0 180.0,112.5 195.0,118.8 205.0,123.8 215.0,128.8 229.7,140.0 242.5,150.5 254.0,158.7 263.5,165.7 275.0,172.7 283.3,176.0 305.0,185.5 312.0,188.0 330.0,188.0 345.0,186.0 360.0,185.0 370.0,186.0 380.0,188.0 390.0,189.0 414.0,189.0 430.0,192.0 440.0,195.0 450.0,199.0 460.0,203.0 472.0,208.0"/>
<g fill="#ff0000" shape-rendering="crispEdges">
<rect x="63" y="56" width="2" height="52"/>
<rect x="72" y="69" width="1.5" height="26"/>
<rect x="158" y="109" width="1" height="34"/>
<rect x="272" y="144" width="1" height="27"/>
<rect x="376" y="182" width="1" height="16"/>
<rect x="424" y="213" width="1" height="9"/>
</g>
<g stroke="#0000ff" fill="none"><line x1="69.5" y1="46" x2="69.5" y2="54.2" stroke-width="2.6"/><polyline points="65.9,51.2 69.5,54.6 73.1,51.2" stroke-width="1.8"/></g>
<g stroke="#ff0000" fill="none"><line x1="71.5" y1="46" x2="71.5" y2="54.2" stroke-width="2.6"/><polyline points="67.9,51.2 71.5,54.6 75.1,51.2" stroke-width="1.8"/></g>
<g stroke="#ff0000" fill="none"><line x1="137.5" y1="73" x2="137.5" y2="81.2" stroke-width="2.6"/><polyline points="133.9,78.2 137.5,81.6 141.1,78.2" stroke-width="1.8"/></g>
<g stroke="#0000ff" fill="none"><line x1="142.5" y1="73" x2="142.5" y2="81.2" stroke-width="2.6"/><polyline points="138.9,78.2 142.5,81.6 146.1,78.2" stroke-width="1.8"/></g>
<g stroke="#ff0000" fill="none"><line x1="149" y1="73" x2="149" y2="81.2" stroke-width="2.6"/><polyline points="145.4,78.2 149,81.6 152.6,78.2" stroke-width="1.8"/></g>
<g stroke="#0000ff" fill="none"><line x1="138.5" y1="113.8" x2="138.5" y2="124" stroke-width="2.6"/><polyline points="134.9,116.8 138.5,113.4 142.1,116.8" stroke-width="1.8"/></g>
<g stroke="#ff0000" fill="none"><line x1="141" y1="113.8" x2="141" y2="124" stroke-width="2.6"/><polyline points="137.4,116.8 141,113.4 144.6,116.8" stroke-width="1.8"/></g>
<g stroke="#ff0000" fill="none"><line x1="107" y1="166.8" x2="107" y2="176" stroke-width="2.6"/><polyline points="103.4,169.8 107,166.4 110.6,169.8" stroke-width="1.8"/></g>
<g stroke="#ff0000" fill="none"><line x1="260" y1="144" x2="260" y2="151.2" stroke-width="2.6"/><polyline points="256.4,148.2 260,151.6 263.6,148.2" stroke-width="1.8"/></g>
<g stroke="#ff0000" fill="none"><line x1="251" y1="156" x2="251" y2="165.2" stroke-width="2.6"/><polyline points="247.4,162.2 251,165.6 254.6,162.2" stroke-width="1.8"/></g>
<g stroke="#0000ff" fill="none"><line x1="252.5" y1="156" x2="252.5" y2="162.2" stroke-width="2.6"/><polyline points="248.9,159.2 252.5,162.6 256.1,159.2" stroke-width="1.8"/></g>
<g stroke="#ff0000" fill="none"><line x1="272" y1="128" x2="272" y2="136.2" stroke-width="2.6"/><polyline points="268.4,133.2 272,136.6 275.6,133.2" stroke-width="1.8"/></g>
<g stroke="#0000ff" fill="none"><line x1="274.5" y1="128" x2="274.5" y2="135.2" stroke-width="2.6"/><polyline points="270.9,132.2 274.5,135.6 278.1,132.2" stroke-width="1.8"/></g>
<g stroke="#0000ff" fill="none"><line x1="282" y1="164" x2="282" y2="172.2" stroke-width="2.6"/><polyline points="278.4,169.2 282,172.6 285.6,169.2" stroke-width="1.8"/></g>
<g stroke="#ff0000" fill="none"><line x1="235.6" y1="214.8" x2="235.6" y2="224" stroke-width="2.6"/><polyline points="232.0,217.8 235.6,214.4 239.2,217.8" stroke-width="1.8"/></g>
<g stroke="#0000ff" fill="none"><line x1="242.5" y1="204" x2="242.5" y2="214" stroke-width="2"/><polyline points="238.7,207.5 242.5,203.7 246.3,207.5" stroke-width="1.3"/></g>
<g stroke="#ff0000" fill="none"><line x1="251.8" y1="210.8" x2="251.8" y2="221" stroke-width="2.6"/><polyline points="248.20000000000002,213.8 251.8,210.4 255.4,213.8" stroke-width="1.8"/></g>
<g stroke="#ff0000" fill="none"><line x1="262.4" y1="210.8" x2="262.4" y2="221" stroke-width="2.6"/><polyline points="258.79999999999995,213.8 262.4,210.4 266.0,213.8" stroke-width="1.8"/></g>
<g stroke="#0000ff" fill="none"><line x1="280" y1="208" x2="280" y2="218" stroke-width="2"/><polyline points="276.2,211.5 280,207.7 283.8,211.5" stroke-width="1.3"/></g>
<g stroke="#ff0000" fill="none"><line x1="308" y1="209.8" x2="308" y2="219" stroke-width="2.6"/><polyline points="304.4,212.8 308,209.4 311.6,212.8" stroke-width="1.8"/></g>
<g stroke="#ff0000" fill="none"><line x1="347" y1="152" x2="347" y2="160.7" stroke-width="2"/><polyline points="343.4,157.7 347,161.1 350.6,157.7" stroke-width="1.8"/></g>
<g stroke="#ff0000" fill="none"><line x1="413" y1="174" x2="413" y2="181.7" stroke-width="1.6"/><polyline points="409.4,178.7 413,182.1 416.6,178.7" stroke-width="1.8"/></g>
<g stroke="#ff0000" fill="none"><line x1="397.5" y1="207.8" x2="397.5" y2="216.5" stroke-width="1.6"/><polyline points="393.9,210.8 397.5,207.4 401.1,210.8" stroke-width="1.8"/></g>
<g stroke="#0000ff" fill="none"><line x1="412" y1="225.8" x2="412" y2="235" stroke-width="2.6"/><polyline points="408.4,228.8 412,225.4 415.6,228.8" stroke-width="1.8"/></g>
<path d="M470.5,240 V246.5 H473 V243" stroke="#000" fill="none" stroke-width="1.3"/>
<g stroke="#000" stroke-width="1" stroke-dasharray="1 4.3" shape-rendering="crispEdges">
<line x1="73" y1="317.5" x2="472" y2="317.5"/>
<line x1="73" y1="345.5" x2="472" y2="345.5"/>
<line x1="73" y1="402.5" x2="472" y2="402.5"/>
</g>
<line x1="81" y1="334.5" x2="486" y2="334.5" stroke="#900050" stroke-width="1" shape-rendering="crispEdges"/>
<polyline fill="none" stroke="#ff1818" stroke-width="1.1" stroke-dasharray="1.2 1.6" points="68.0,205.0 105.0,217.5 120.0,216.0 142.5,211.0 160.0,215.0 192.5,227.5 230.0,247.0 267.5,244.0 302.0,258.0 339.0,247.0 370.6,255.0 405.0,264.0 448.8,277.0 473.8,284.7"/>
<polyline fill="none" stroke="#1010f0" stroke-width="2.6" stroke-linejoin="round" points="33.0,207.0 36.0,208.0 40.0,205.0 44.0,205.0 48.0,202.0 52.0,207.0 55.0,212.0 58.0,211.0 61.0,215.0 63.0,198.0 66.0,205.0 68.0,203.0 72.0,209.0 76.0,217.0 80.0,215.0 84.0,216.0 88.0,219.0 92.0,217.0 96.0,220.0 99.0,227.0 103.0,228.0 106.0,220.0 108.0,212.0 112.0,213.0 116.0,215.0 120.0,213.0 124.0,210.0 128.0,213.0 130.0,215.0 136.0,214.0 140.0,212.0 146.0,211.0 150.0,213.0 154.0,214.0 158.0,224.0 162.0,226.0 165.0,221.0 170.0,225.0 175.0,226.0 180.0,227.0 185.0,228.0 190.0,228.0 195.0,227.0 200.0,232.0 204.0,246.0 210.0,251.0 216.0,255.0 220.0,249.0 226.0,249.0 230.0,251.0 236.0,247.0 242.0,248.0 248.0,246.0 254.0,248.0 260.0,245.0 264.0,246.0 268.0,242.0 270.0,240.0 272.0,244.0 274.0,254.0 278.0,259.0 290.0,259.0 296.0,257.0 300.0,261.0 306.0,259.0 310.0,254.0 316.0,251.0 322.0,251.0 330.0,249.0 336.0,247.0 342.0,247.0 346.0,251.0 350.0,257.0 356.0,257.0 364.0,258.0 370.0,260.0 374.0,265.0 378.0,269.0 382.0,268.0 384.0,266.0 390.0,269.0 396.0,265.0 402.0,264.0 408.0,264.0 414.0,266.0 418.0,275.0 424.0,274.0 430.0,276.0 434.0,273.0 440.0,279.0 446.0,281.0 450.0,285.0 454.0,281.0 458.0,284.0 464.0,286.0 466.0,288.0 470.0,290.0 473.0,291.0"/>
<polyline fill="none" stroke="#000" stroke-width="1" stroke-dasharray="1 2" points="68.0,263.0 106.0,276.0 130.0,277.0 230.0,290.0 330.0,292.0 400.0,295.0 473.0,303.0"/>
<polyline fill="none" stroke="#ff20ff" stroke-width="2.6" stroke-linejoin="round" points="33.0,263.0 40.0,263.5 45.0,262.0 48.0,261.0 55.0,261.5 60.0,262.5 65.0,263.0 68.0,264.0 70.0,268.0 74.0,273.0 80.0,274.0 85.0,276.0 90.0,278.0 95.0,280.0 98.0,281.0 102.0,280.0 106.0,276.0 110.0,277.0 120.0,277.0 125.0,276.0 130.0,276.0 134.0,276.0 140.0,278.0 150.0,278.0 156.0,280.0 162.0,282.0 170.0,282.0 180.0,284.0 186.0,285.0 196.0,283.0 204.0,286.0 212.0,290.0 218.0,294.0 230.0,294.0 250.0,294.0 258.0,296.0 264.0,294.0 272.0,292.0 280.0,295.0 290.0,295.0 300.0,294.0 310.0,293.0 320.0,293.0 330.0,291.0 338.0,290.0 346.0,292.0 360.0,293.0 370.0,294.0 376.0,296.0 384.0,295.0 396.0,294.0 406.0,295.0 414.0,297.0 420.0,298.0 424.0,298.0 432.0,296.0 440.0,299.0 446.0,303.0 450.0,305.0 454.0,302.0 460.0,304.0 466.0,306.0 473.0,307.0"/>
<polyline fill="none" stroke="#ff1818" stroke-width="1.1" stroke-dasharray="1.2 1.6" points="67.5,266.0 86.0,275.0 102.5,280.0 130.0,280.0 170.0,288.0 200.0,305.0 230.0,323.0 270.0,327.0 300.0,329.0 330.0,328.0 340.0,325.0 360.0,328.0 380.0,333.0 400.0,334.0 406.0,331.0 473.0,342.0"/>
<polyline fill="none" stroke="#000" stroke-width="2.4" stroke-linejoin="round" points="33.0,263.0 35.0,265.0 37.0,267.0 40.0,265.0 43.0,266.0 46.0,264.0 48.0,262.0 50.0,265.0 55.0,270.0 58.0,274.0 60.0,276.0 62.0,270.0 63.0,260.0 64.0,266.0 66.0,268.0 68.0,263.0 70.0,268.0 72.0,275.0 75.0,279.0 78.0,281.0 82.0,280.0 85.0,280.0 90.0,281.0 94.0,283.0 97.0,287.0 99.0,290.0 101.0,288.0 104.0,285.0 106.0,272.0 108.0,271.0 111.0,273.0 113.0,276.0 118.0,277.0 123.0,275.0 128.0,279.0 130.0,283.0 136.0,285.0 138.0,288.0 142.0,284.0 146.0,285.0 150.0,289.0 156.0,290.0 158.0,305.0 160.0,306.0 163.0,305.0 165.0,300.0 168.0,304.0 172.0,305.0 176.0,304.0 180.0,300.0 184.0,306.0 188.0,310.0 192.0,311.0 196.0,309.0 200.0,310.0 204.0,316.0 208.0,325.0 212.0,329.0 216.0,329.0 218.0,325.0 220.0,327.0 226.0,326.0 230.0,325.0 240.0,328.0 250.0,328.0 256.0,329.0 260.0,333.0 264.0,328.0 268.0,324.0 272.0,318.0 274.0,322.0 278.0,327.0 284.0,331.0 290.0,333.0 300.0,332.0 306.0,332.0 310.0,326.0 316.0,325.0 322.0,325.0 330.0,324.0 336.0,321.0 340.0,322.0 346.0,328.0 356.0,331.0 364.0,332.0 370.0,334.0 374.0,337.0 378.0,334.0 384.0,333.0 392.0,332.0 402.0,332.0 410.0,330.0 414.0,336.0 420.0,338.0 426.0,338.0 432.0,335.0 440.0,340.0 450.0,341.0 460.0,342.0 466.0,343.0 470.0,346.0 473.0,349.0"/>
<g font-family="Liberation Sans, sans-serif" font-weight="bold" font-size="12" letter-spacing="0.513" transform="scale(0.917,1)" fill="#000" style="white-space:pre">
<text x="1.64" y="302" >Insider Buying= 0/65</text>
<text x="1.64" y="315" >Insider Selling= 37/65</text>
<text x="47.98" y="321" >+.50</text>
<text x="1.64" y="337.7" >Insider Buying</text>
<text x="1.64" y="352" >Accum</text>
<text x="47.98" y="349" >+.25</text>
<text x="1.64" y="364" >Index</text>
<text x="1.64" y="376" >AI= 17/200</text>
<text x="47.98" y="406" >-.25</text>
<text x="64.34" y="414.3" >Sep</text>
<text x="105.78" y="414.3" >Oct</text>
<text x="149.95" y="414.3" >Nov</text>
<text x="186.48" y="414.3" >Dec</text>
<text x="222.46" y="414.3" >Jan</text>
<text x="266.09" y="414.3" >Feb</text>
<text x="303.16" y="414.3" >Mar</text>
<text x="345.69" y="414.3" >Apr</text>
<text x="386.04" y="414.3" >May</text>
<text x="424.21" y="414.3" >Jun</text>
<text x="466.74" y="414.3" >Jul</text>
<text x="509.27" y="414.3" >Aug</text>
</g>
<rect x="30.5" y="400" width="1" height="15" fill="#b0b020"/>
<g shape-rendering="crispEdges">
<rect x="71" y="375" width="1" height="19.3" fill="#ff0000"/>
<rect x="73" y="375" width="1" height="19.5" fill="#ff0000"/>
<rect x="74" y="375" width="1" height="21.8" fill="#ff0000"/>
<rect x="76" y="375" width="1" height="25.3" fill="#ff0000"/>
<rect x="78" y="375" width="1" height="23.8" fill="#ff0000"/>
<rect x="80" y="375" width="1" height="25.4" fill="#ff0000"/>
<rect x="81" y="375" width="1" height="27.0" fill="#ff0000"/>
<rect x="83" y="375" width="1" height="28.3" fill="#ff0000"/>
<rect x="85" y="375" width="1" height="30.3" fill="#ff0000"/>
<rect x="87" y="375" width="1" height="33.0" fill="#ff0000"/>
<rect x="88" y="375" width="1" height="32.0" fill="#ff0000"/>
<rect x="90" y="375" width="1" height="30.0" fill="#ff0000"/>
<rect x="92" y="375" width="1" height="32.0" fill="#ff0000"/>
<rect x="94" y="375" width="1" height="34.0" fill="#ff0000"/>
<rect x="95" y="375" width="1" height="33.3" fill="#ff0000"/>
<rect x="97" y="375" width="1" height="32.0" fill="#ff0000"/>
<rect x="99" y="375" width="1" height="36.0" fill="#ff0000"/>
<rect x="101" y="375" width="1" height="38.7" fill="#ff0000"/>
<rect x="102" y="375" width="1" height="39.3" fill="#ff0000"/>
<rect x="104" y="375" width="1" height="37.0" fill="#ff0000"/>
<rect x="106" y="375" width="1" height="29.5" fill="#ff0000"/>
<rect x="108" y="375" width="1" height="23.0" fill="#ff0000"/>
<rect x="109" y="375" width="1" height="21.0" fill="#ff0000"/>
<rect x="111" y="375" width="1" height="17.7" fill="#ff0000"/>
<rect x="113" y="375" width="1" height="14.0" fill="#ff0000"/>
<rect x="115" y="375" width="1" height="13.0" fill="#ff0000"/>
<rect x="117" y="375" width="1" height="13.0" fill="#ff0000"/>
<rect x="118" y="375" width="1" height="12.0" fill="#ff0000"/>
<rect x="120" y="375" width="1" height="10.5" fill="#ff0000"/>
<rect x="122" y="375" width="1" height="7.5" fill="#ff0000"/>
<rect x="124" y="374.5" width="1" height="0.5" fill="#0000ff"/>
<rect x="125" y="375" width="1" height="2.8" fill="#ff0000"/>
<rect x="127" y="375" width="1" height="5.0" fill="#ff0000"/>
<rect x="129" y="375" width="1" height="3.0" fill="#ff0000"/>
<rect x="131" y="375" width="1" height="4.3" fill="#ff0000"/>
<rect x="132" y="375" width="1" height="5.0" fill="#ff0000"/>
<rect x="134" y="375" width="1" height="12.0" fill="#ff0000"/>
<rect x="136" y="375" width="1" height="3.0" fill="#ff0000"/>
<rect x="138" y="372.0" width="1" height="3.0" fill="#0000ff"/>
<rect x="139" y="371.0" width="1" height="4.0" fill="#0000ff"/>
<rect x="141" y="372.5" width="1" height="2.5" fill="#0000ff"/>
<rect x="143" y="375" width="1" height="2.3" fill="#ff0000"/>
<rect x="145" y="375" width="1" height="7.0" fill="#ff0000"/>
<rect x="146" y="375" width="1" height="9.7" fill="#ff0000"/>
<rect x="148" y="375" width="1" height="15.0" fill="#ff0000"/>
<rect x="150" y="375" width="1" height="18.5" fill="#ff0000"/>
<rect x="152" y="375" width="1" height="22.0" fill="#ff0000"/>
<rect x="153" y="375" width="1" height="24.0" fill="#ff0000"/>
<rect x="155" y="375" width="1" height="28.0" fill="#ff0000"/>
<rect x="157" y="375" width="1" height="33.5" fill="#ff0000"/>
<rect x="159" y="375" width="1" height="38.0" fill="#ff0000"/>
<rect x="161" y="375" width="1" height="39.1" fill="#ff0000"/>
<rect x="162" y="375" width="1" height="37.7" fill="#ff0000"/>
<rect x="164" y="375" width="1" height="32.9" fill="#ff0000"/>
<rect x="166" y="375" width="1" height="27.5" fill="#ff0000"/>
<rect x="168" y="375" width="1" height="27.0" fill="#ff0000"/>
<rect x="169" y="375" width="1" height="26.8" fill="#ff0000"/>
<rect x="171" y="375" width="1" height="26.3" fill="#ff0000"/>
<rect x="173" y="375" width="1" height="25.8" fill="#ff0000"/>
<rect x="175" y="375" width="1" height="25.9" fill="#ff0000"/>
<rect x="176" y="375" width="1" height="26.1" fill="#ff0000"/>
<rect x="178" y="375" width="1" height="26.7" fill="#ff0000"/>
<rect x="180" y="375" width="1" height="27.2" fill="#ff0000"/>
<rect x="182" y="375" width="1" height="27.7" fill="#ff0000"/>
<rect x="183" y="375" width="1" height="27.8" fill="#ff0000"/>
<rect x="185" y="375" width="1" height="28.1" fill="#ff0000"/>
<rect x="187" y="375" width="1" height="28.4" fill="#ff0000"/>
<rect x="189" y="375" width="1" height="28.8" fill="#ff0000"/>
<rect x="190" y="375" width="1" height="28.9" fill="#ff0000"/>
<rect x="192" y="375" width="1" height="26.4" fill="#ff0000"/>
<rect x="194" y="375" width="1" height="22.7" fill="#ff0000"/>
<rect x="196" y="375" width="1" height="19.0" fill="#ff0000"/>
<rect x="197" y="375" width="1" height="21.1" fill="#ff0000"/>
<rect x="199" y="375" width="1" height="25.4" fill="#ff0000"/>
<rect x="201" y="375" width="1" height="28.9" fill="#ff0000"/>
<rect x="203" y="375" width="1" height="31.6" fill="#ff0000"/>
<rect x="205" y="375" width="1" height="33.3" fill="#ff0000"/>
<rect x="206" y="375" width="1" height="33.6" fill="#ff0000"/>
<rect x="208" y="375" width="1" height="34.1" fill="#ff0000"/>
<rect x="210" y="375" width="1" height="34.7" fill="#ff0000"/>
<rect x="212" y="375" width="1" height="33.7" fill="#ff0000"/>
<rect x="213" y="375" width="1" height="32.3" fill="#ff0000"/>
<rect x="215" y="375" width="1" height="28.4" fill="#ff0000"/>
<rect x="217" y="375" width="1" height="23.2" fill="#ff0000"/>
<rect x="219" y="375" width="1" height="18.0" fill="#ff0000"/>
<rect x="220" y="375" width="1" height="18.0" fill="#ff0000"/>
<rect x="222" y="375" width="1" height="18.0" fill="#ff0000"/>
<rect x="224" y="375" width="1" height="17.5" fill="#ff0000"/>
<rect x="226" y="375" width="1" height="17.0" fill="#ff0000"/>
<rect x="227" y="375" width="1" height="17.2" fill="#ff0000"/>
<rect x="229" y="375" width="1" height="17.8" fill="#ff0000"/>
<rect x="231" y="375" width="1" height="16.8" fill="#ff0000"/>
<rect x="233" y="375" width="1" height="14.2" fill="#ff0000"/>
<rect x="234" y="375" width="1" height="13.0" fill="#ff0000"/>
<rect x="236" y="375" width="1" height="9.7" fill="#ff0000"/>
<rect x="238" y="375" width="1" height="5.3" fill="#ff0000"/>
<rect x="241" y="373.0" width="1" height="2.0" fill="#0000ff"/>
<rect x="243" y="369.0" width="1" height="6.0" fill="#0000ff"/>
<rect x="245" y="366.0" width="1" height="9.0" fill="#0000ff"/>
<rect x="247" y="363.0" width="1" height="12.0" fill="#0000ff"/>
<rect x="249" y="362.7" width="1" height="12.3" fill="#0000ff"/>
<rect x="250" y="362.5" width="1" height="12.5" fill="#0000ff"/>
<rect x="252" y="368.0" width="1" height="7.0" fill="#0000ff"/>
<rect x="254" y="375" width="1" height="1.0" fill="#ff0000"/>
<rect x="256" y="375" width="1" height="13.0" fill="#ff0000"/>
<rect x="257" y="375" width="1" height="9.0" fill="#ff0000"/>
<rect x="259" y="375" width="1" height="2.5" fill="#ff0000"/>
<rect x="261" y="371.7" width="1" height="3.3" fill="#0000ff"/>
<rect x="263" y="365.0" width="1" height="10.0" fill="#0000ff"/>
<rect x="264" y="361.7" width="1" height="13.3" fill="#0000ff"/>
<rect x="266" y="355.0" width="1" height="20.0" fill="#0000ff"/>
<rect x="268" y="356.7" width="1" height="18.3" fill="#0000ff"/>
<rect x="270" y="358.0" width="1" height="17.0" fill="#0000ff"/>
<rect x="271" y="363.0" width="1" height="12.0" fill="#0000ff"/>
<rect x="273" y="370.5" width="1" height="4.5" fill="#0000ff"/>
<rect x="275" y="373.5" width="1" height="1.5" fill="#0000ff"/>
<rect x="277" y="374.5" width="1" height="0.5" fill="#0000ff"/>
<rect x="280" y="375" width="1" height="0.9" fill="#ff0000"/>
<rect x="282" y="375" width="1" height="1.7" fill="#ff0000"/>
<rect x="284" y="375" width="1" height="2.4" fill="#ff0000"/>
<rect x="285" y="375" width="1" height="2.7" fill="#ff0000"/>
<rect x="287" y="375" width="1" height="4.5" fill="#ff0000"/>
<rect x="289" y="375" width="1" height="7.5" fill="#ff0000"/>
<rect x="291" y="375" width="1" height="5.2" fill="#ff0000"/>
<rect x="293" y="375" width="1" height="4.2" fill="#ff0000"/>
<rect x="294" y="375" width="1" height="4.5" fill="#ff0000"/>
<rect x="296" y="375" width="1" height="5.0" fill="#ff0000"/>
<rect x="298" y="375" width="1" height="10.3" fill="#ff0000"/>
<rect x="300" y="375" width="1" height="16.0" fill="#ff0000"/>
<rect x="301" y="375" width="1" height="19.0" fill="#ff0000"/>
<rect x="303" y="375" width="1" height="22.5" fill="#ff0000"/>
<rect x="305" y="375" width="1" height="23.5" fill="#ff0000"/>
<rect x="307" y="375" width="1" height="25.0" fill="#ff0000"/>
<rect x="308" y="375" width="1" height="26.0" fill="#ff0000"/>
<rect x="310" y="375" width="1" height="22.0" fill="#ff0000"/>
<rect x="312" y="375" width="1" height="17.3" fill="#ff0000"/>
<rect x="314" y="375" width="1" height="15.0" fill="#ff0000"/>
<rect x="315" y="375" width="1" height="15.0" fill="#ff0000"/>
<rect x="317" y="375" width="1" height="14.5" fill="#ff0000"/>
<rect x="319" y="375" width="1" height="13.5" fill="#ff0000"/>
<rect x="321" y="375" width="1" height="11.0" fill="#ff0000"/>
<rect x="322" y="375" width="1" height="9.0" fill="#ff0000"/>
<rect x="324" y="375" width="1" height="5.0" fill="#ff0000"/>
<rect x="326" y="375" width="1" height="2.5" fill="#ff0000"/>
<rect x="328" y="375" width="1" height="7.0" fill="#ff0000"/>
<rect x="329" y="375" width="1" height="7.3" fill="#ff0000"/>
<rect x="331" y="375" width="1" height="8.0" fill="#ff0000"/>
<rect x="333" y="375" width="1" height="6.0" fill="#ff0000"/>
<rect x="335" y="375" width="1" height="4.7" fill="#ff0000"/>
<rect x="337" y="375" width="1" height="4.0" fill="#ff0000"/>
<rect x="338" y="375" width="1" height="5.2" fill="#ff0000"/>
<rect x="340" y="375" width="1" height="7.5" fill="#ff0000"/>
<rect x="342" y="375" width="1" height="10.8" fill="#ff0000"/>
<rect x="344" y="375" width="1" height="14.0" fill="#ff0000"/>
<rect x="345" y="375" width="1" height="16.0" fill="#ff0000"/>
<rect x="347" y="375" width="1" height="20.0" fill="#ff0000"/>
<rect x="349" y="375" width="1" height="22.2" fill="#ff0000"/>
<rect x="351" y="375" width="1" height="22.8" fill="#ff0000"/>
<rect x="352" y="375" width="1" height="23.0" fill="#ff0000"/>
<rect x="354" y="375" width="1" height="22.5" fill="#ff0000"/>
<rect x="356" y="375" width="1" height="22.0" fill="#ff0000"/>
<rect x="358" y="375" width="1" height="26.0" fill="#ff0000"/>
<rect x="359" y="375" width="1" height="28.0" fill="#ff0000"/>
<rect x="361" y="375" width="1" height="32.7" fill="#ff0000"/>
<rect x="363" y="375" width="1" height="36.0" fill="#ff0000"/>
<rect x="365" y="375" width="1" height="38.0" fill="#ff0000"/>
<rect x="366" y="375" width="1" height="37.8" fill="#ff0000"/>
<rect x="368" y="375" width="1" height="37.4" fill="#ff0000"/>
<rect x="370" y="375" width="1" height="37.0" fill="#ff0000"/>
<rect x="372" y="375" width="1" height="36.0" fill="#ff0000"/>
<rect x="373" y="375" width="1" height="35.5" fill="#ff0000"/>
<rect x="375" y="375" width="1" height="36.2" fill="#ff0000"/>
<rect x="377" y="375" width="1" height="38.8" fill="#ff0000"/>
<rect x="379" y="375" width="1" height="37.5" fill="#ff0000"/>
<rect x="381" y="375" width="1" height="32.5" fill="#ff0000"/>
<rect x="382" y="375" width="1" height="30.0" fill="#ff0000"/>
<rect x="384" y="375" width="1" height="26.0" fill="#ff0000"/>
<rect x="386" y="375" width="1" height="22.0" fill="#ff0000"/>
<rect x="388" y="375" width="1" height="22.5" fill="#ff0000"/>
<rect x="389" y="375" width="1" height="22.8" fill="#ff0000"/>
<rect x="391" y="375" width="1" height="21.8" fill="#ff0000"/>
<rect x="393" y="375" width="1" height="19.2" fill="#ff0000"/>
<rect x="395" y="375" width="1" height="16.8" fill="#ff0000"/>
<rect x="396" y="375" width="1" height="15.5" fill="#ff0000"/>
<rect x="398" y="375" width="1" height="13.0" fill="#ff0000"/>
<rect x="400" y="375" width="1" height="15.0" fill="#ff0000"/>
<rect x="402" y="375" width="1" height="13.5" fill="#ff0000"/>
<rect x="403" y="375" width="1" height="12.8" fill="#ff0000"/>
<rect x="405" y="375" width="1" height="10.8" fill="#ff0000"/>
<rect x="407" y="375" width="1" height="8.2" fill="#ff0000"/>
<rect x="409" y="375" width="1" height="5.0" fill="#ff0000"/>
<rect x="410" y="375" width="1" height="3.0" fill="#ff0000"/>
<rect x="412" y="372.0" width="1" height="3.0" fill="#0000ff"/>
<rect x="414" y="375" width="1" height="3.0" fill="#ff0000"/>
<rect x="416" y="375" width="1" height="7.7" fill="#ff0000"/>
<rect x="417" y="375" width="1" height="10.0" fill="#ff0000"/>
<rect x="419" y="375" width="1" height="16.7" fill="#ff0000"/>
<rect x="421" y="375" width="1" height="20.8" fill="#ff0000"/>
<rect x="423" y="375" width="1" height="22.2" fill="#ff0000"/>
<rect x="425" y="375" width="1" height="23.0" fill="#ff0000"/>
<rect x="426" y="375" width="1" height="23.0" fill="#ff0000"/>
<rect x="428" y="375" width="1" height="23.0" fill="#ff0000"/>
<rect x="430" y="375" width="1" height="26.5" fill="#ff0000"/>
<rect x="432" y="375" width="1" height="30.0" fill="#ff0000"/>
<rect x="433" y="375" width="1" height="32.0" fill="#ff0000"/>
<rect x="435" y="375" width="1" height="36.0" fill="#ff0000"/>
<rect x="437" y="375" width="1" height="40.0" fill="#ff0000"/>
<rect x="439" y="375" width="1" height="40.0" fill="#ff0000"/>
<rect x="440" y="375" width="1" height="40.0" fill="#ff0000"/>
<rect x="442" y="375" width="1" height="40.0" fill="#ff0000"/>
<rect x="442" y="428" width="1" height="1.0" fill="#ff0000"/>
<rect x="444" y="375" width="1" height="40.0" fill="#ff0000"/>
<rect x="444" y="428" width="1" height="5.0" fill="#ff0000"/>
<rect x="446" y="375" width="1" height="40.0" fill="#ff0000"/>
<rect x="446" y="428" width="1" height="6.0" fill="#ff0000"/>
<rect x="447" y="375" width="1" height="40.0" fill="#ff0000"/>
<rect x="447" y="428" width="1" height="6.0" fill="#ff0000"/>
<rect x="449" y="375" width="1" height="40.0" fill="#ff0000"/>
<rect x="449" y="428" width="1" height="6.0" fill="#ff0000"/>
<rect x="451" y="375" width="1" height="40.0" fill="#ff0000"/>
<rect x="451" y="428" width="1" height="6.0" fill="#ff0000"/>
<rect x="453" y="375" width="1" height="40.0" fill="#ff0000"/>
<rect x="453" y="428" width="1" height="6.0" fill="#ff0000"/>
<rect x="454" y="375" width="1" height="40.0" fill="#ff0000"/>
<rect x="454" y="428" width="1" height="4.0" fill="#ff0000"/>
<rect x="456" y="375" width="1" height="40.0" fill="#ff0000"/>
<rect x="456" y="428" width="1" height="3.6" fill="#ff0000"/>
<rect x="458" y="375" width="1" height="40.0" fill="#ff0000"/>
<rect x="458" y="428" width="1" height="6.0" fill="#ff0000"/>
<rect x="460" y="375" width="1" height="40.0" fill="#ff0000"/>
<rect x="460" y="428" width="1" height="6.0" fill="#ff0000"/>
<rect x="461" y="375" width="1" height="40.0" fill="#ff0000"/>
<rect x="461" y="428" width="1" height="6.0" fill="#ff0000"/>
<rect x="463" y="375" width="1" height="40.0" fill="#ff0000"/>
<rect x="463" y="428" width="1" height="6.0" fill="#ff0000"/>
<rect x="465" y="375" width="1" height="40.0" fill="#ff0000"/>
<rect x="465" y="428" width="1" height="6.0" fill="#ff0000"/>
<rect x="467" y="375" width="1" height="40.0" fill="#ff0000"/>
<rect x="467" y="428" width="1" height="6.0" fill="#ff0000"/>
<rect x="469" y="375" width="1" height="40.0" fill="#ff0000"/>
<rect x="469" y="428" width="1" height="6.0" fill="#ff0000"/>
<rect x="470" y="375" width="1" height="40.0" fill="#ff0000"/>
<rect x="470" y="428" width="1" height="6.0" fill="#ff0000"/>
<rect x="472" y="375" width="1" height="40.0" fill="#ff0000"/>
<rect x="472" y="428" width="1" height="6.0" fill="#ff0000"/>
</g>
<rect x="68" y="368" width="1" height="7" fill="#000"/>
<polyline fill="none" stroke="#000" stroke-width="1.4" points="69.0,375.0 69.5,375.0 70.0,389.0 71.5,397.0 73.0,394.5 75.0,399.0 76.5,401.0 78.5,398.0 81.0,402.0 84.0,404.0 87.0,408.0 90.0,405.0 94.0,409.0 97.0,407.0 100.0,413.0 103.0,415.0 105.0,409.0 107.0,400.0 109.0,396.0 112.0,391.0 114.0,387.0 116.0,389.0 119.0,386.0 121.0,385.0 123.0,380.0 124.0,374.5 126.0,381.0 129.0,378.0 132.0,380.0 134.0,387.0 136.0,378.0 138.0,372.0 140.0,370.0 142.0,375.0 145.0,382.0 148.0,390.0 152.0,397.0 156.0,405.0 158.0,412.0 160.6,414.7 162.5,412.0 166.0,402.5 174.0,400.6 181.0,402.5 190.6,404.0 196.0,394.0 200.0,402.5 204.0,408.0 211.0,410.0 214.0,406.0 219.0,393.0 222.0,393.0 226.0,392.0 230.0,393.0 234.0,388.0 237.0,383.0 240.0,375.0 243.0,369.0 247.0,363.0 250.0,362.5 252.0,368.0 255.0,380.0 256.0,388.0 258.0,380.0 260.0,375.0 263.0,365.0 266.0,355.0 268.0,356.7 270.0,358.0 272.0,368.0 274.0,373.0 278.0,375.0 282.0,376.7 286.0,378.0 289.0,382.5 292.0,379.0 296.0,380.0 299.0,388.0 302.0,397.0 306.0,399.0 308.0,401.0 310.0,397.0 313.0,390.0 316.0,390.0 320.0,388.0 324.0,380.0 326.0,377.5 328.0,382.0 331.0,383.0 334.0,380.0 337.0,379.0 340.0,382.5 344.0,389.0 348.0,397.0 352.0,398.0 356.0,397.0 359.0,403.0 362.0,410.0 365.0,413.0 370.0,412.0 374.0,410.0 378.0,415.0 382.0,405.0 386.0,397.0 390.0,398.0 394.0,393.0 398.0,388.0 400.0,390.0 404.0,387.0 408.0,382.0 410.0,378.0 412.0,372.0 414.0,378.0 417.0,385.0 420.0,395.0 424.0,398.0 428.0,398.0 432.0,405.0 436.0,413.0 440.0,425.0 445.0,435.0 450.0,440.0 455.0,430.0 460.0,438.0 465.0,440.0 470.0,435.0 473.0,440.0"/>
<polyline fill="none" stroke="#000" stroke-width="0.9" points="122.0,402.5 140.0,384.0 145.6,382.0 160.0,388.0 174.0,395.0 185.0,402.5 192.6,405.0 211.0,406.0 230.0,404.0 241.0,393.0 249.0,384.0 254.0,380.0 267.5,372.5 275.0,368.8 297.5,372.5 301.0,376.0 309.0,385.6 324.0,389.4 339.0,389.4 342.6,386.6 357.6,389.4 369.0,397.0 380.0,404.0 382.5,407.5 388.8,406.0 395.0,403.0 401.0,400.0 407.5,396.0 417.5,390.0 422.5,389.0 432.5,390.6 440.0,395.0 445.0,401.0 450.0,408.8 455.0,416.0"/>
<rect x="0" y="415" width="760" height="13" fill="#fff"/>
<g font-family="Liberation Sans, sans-serif" font-weight="bold" font-size="12" letter-spacing="0.513" transform="scale(0.917,1)" fill="#000" style="white-space:pre">
<text x="4.36" y="426" >174.81</text>
<text x="5.45" y="426" >For Last 65 days stock changed -12.8% or -1.41 points:  Public accounts for  .61 points.;  Professionals account for -2.02 points.</text>
<text x="5.45" y="438.8" >For Last year stock changed -31.4% or -4.3 points:  Public accounts for  .79 points.;  Professionals account for -5.09 points.</text>
<text x="5.45" y="451.3" >(Blue arrows)#2 Indicator=21-day IPA ma turns. Its gain= 42.6% Sell</text>
<text x="5.45" y="463.5" >(Green arrows)#3 Indicator=50-day Closing Power ma turns. Its gain= 33.8% Sell</text>
<text x="2.18" y="475.5" >(Magenta arrows)#4 Indicator=50-day IPA ma turns. Its gain= 27% Sell</text>
<text x="577.43" y="48.3" >Year's Gain= -31.4%</text>
<text x="577.43" y="60.8" >% of days up= 41%</text>
<text x="577.43" y="73.3" >% of openings up= 45.8%</text>
<text x="577.43" y="85.8" >% of closings up= 39.4%</text>
<text x="577.43" y="98.3" >65-day gain= -12.8%</text>
<text x="557.80" y="115.60000000000001" >5dma= 9.62 21dma= 9.9 65dma=10.3</text>
<text x="557.80" y="128.2" >Falling 5-dma falling 21-dma falling 65-dma</text>
<text x="557.80" y="144.6" >BEARISH PRICE TREND</text>
<text x="577.97" y="156.20000000000002" >65d-PR%= 0%</text>
<text x="557.80" y="172.6" >Public is bearish</text>
<text x="577.97" y="184.9" >65d-OP%= 76.1%</text>
<text x="557.80" y="202.4" >Professionals are bearish</text>
<text x="577.97" y="214.6" >65d-CP%= 0%</text>
<text x="557.80" y="235.6" >CP%vsPr%=  0%</text>
<text x="557.80" y="252.20000000000002" >Strength Profess/Pub= 3.3</text>
<text x="557.80" y="268.4" >CLOSING POWER (blue):</text>
<text x="557.80" y="281.59999999999997" >Bearish</text>
<text x="557.80" y="302.79999999999995" >OBV (magenta):</text>
<text x="557.80" y="314.59999999999997" >Beaish</text>
<text x="557.80" y="334.4" >REL.STR..VS DJI (brown):</text>
<text x="557.80" y="345.9" >Bearish</text>
<text x="557.80" y="357.79999999999995" >ITRS=-.09</text>
<text x="557.80" y="385.29999999999995" >Bearish: Distrubtion Falling.</text>
<text x="576.88" y="394.9" >IP= -.512</text>
</g>
</svg>
</body></html>
